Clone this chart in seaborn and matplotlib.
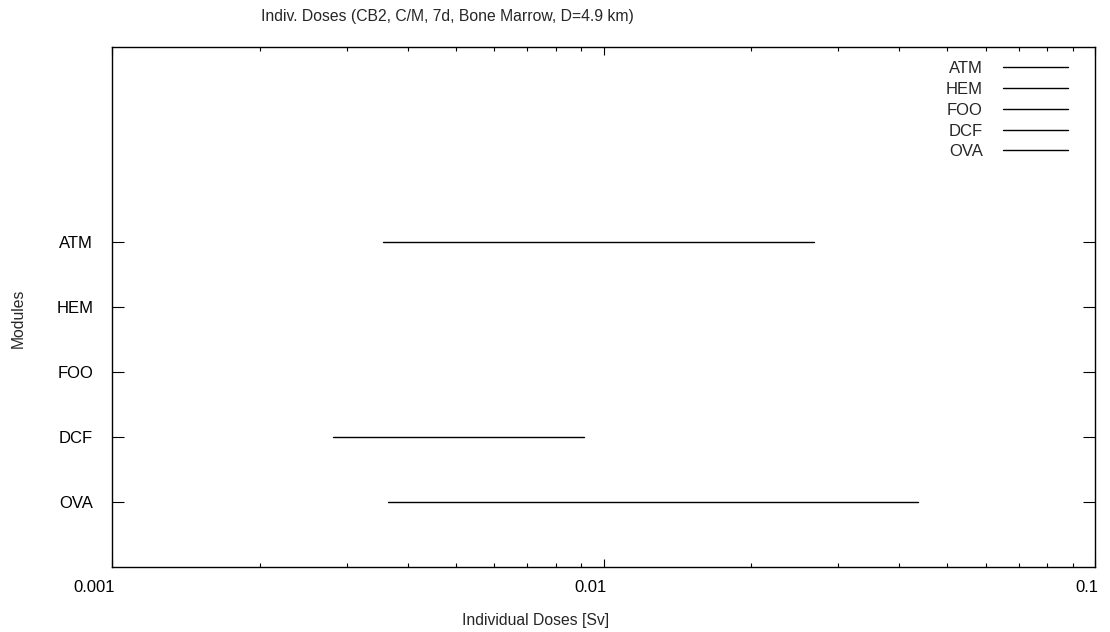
import matplotlib
matplotlib.use("Agg")
import matplotlib.pyplot as plt
import matplotlib.transforms as mtransforms
from matplotlib.lines import Line2D
from matplotlib.ticker import LogLocator, NullFormatter, FixedLocator
import numpy as np
import pandas as pd
import seaborn as sns

# Modules (top to bottom) and their dose ranges [Sv]
modules = ["ATM", "HEM", "FOO", "DCF", "OVA"]
dose_low = [0.00356, np.nan, np.nan, 0.00282, 0.00364]
dose_high = [0.0268, np.nan, np.nan, 0.00913, 0.0437]
x_ticks = [0.001, 0.01, 0.1]
x_tick_labels = ["0.001", "0.01", "0.1"]

title = "Indiv. Doses (CB2, C/M, 7d, Bone Marrow, D=4.9 km)"

sns.set_theme(style="ticks")
plt.rcParams["font.family"] = ["Liberation Sans", "DejaVu Sans"]
plt.rcParams["font.size"] = 11.3

# y position of each module row (OVA at bottom)
ypos = {m: len(modules) - i for i, m in enumerate(modules)}

rows = []
for m, lo, hi in zip(modules, dose_low, dose_high):
    if np.isnan(lo):
        continue
    rows.append({"module": m, "dose": lo, "y": ypos[m]})
    rows.append({"module": m, "dose": hi, "y": ypos[m]})
df = pd.DataFrame(rows)

fig = plt.figure(figsize=(11.10, 6.32), dpi=100)
ax = fig.add_axes([112 / 1110, 1 - 567 / 632, (1095 - 112) / 1110, (567 - 47) / 632])

sns.lineplot(data=df, x="dose", y="y", units="module", estimator=None,
             sort=False, color="black", linewidth=1.0, legend=False, ax=ax)

ax.set_xscale("log")
ax.set_xlim(0.001, 0.1)
ax.set_ylim(0, 8)

ax.xaxis.set_major_locator(FixedLocator(x_ticks))
ax.set_xticklabels(x_tick_labels)
ax.xaxis.set_minor_locator(LogLocator(base=10, subs=np.arange(2, 10)))
ax.xaxis.set_minor_formatter(NullFormatter())

ax.set_yticks([ypos[m] for m in modules])
ax.set_yticklabels(modules)

for s in ax.spines.values():
    s.set_visible(True)
    s.set_linewidth(1.0)
    s.set_color("black")

tick_fs = 12
ax.tick_params(axis="x", which="major", direction="in", length=6, width=0.8,
               top=True, bottom=True, pad=9, colors="black", labelsize=tick_fs)
ax.tick_params(axis="x", which="minor", direction="in", length=3, width=0.8,
               top=True, bottom=True, colors="black")
ax.tick_params(axis="y", which="major", direction="in", length=8.5, width=0.8,
               left=True, right=True, pad=13.5, colors="black", labelsize=tick_fs)

# x tick labels sit just left of their tick
for lbl in ax.get_xticklabels():
    lbl.set_horizontalalignment("right")
    lbl.set_transform(lbl.get_transform() +
                      mtransforms.ScaledTranslation(3 / 100, 0, fig.dpi_scale_trans))

ax.set_xlabel("")
ax.set_ylabel("")
ax.grid(False)

fig.text(447 / 1110, 1 - 17 / 632, title, ha="center", va="center")
fig.text(536 / 1110, 1 - 620 / 632, "Individual Doses [Sv]", ha="center",
         va="center")
fig.text(18 / 1110, 1 - 318 / 632, "Modules", ha="center", va="center",
         rotation=90)

handles = [Line2D([0], [0], color="black", linewidth=1.0) for _ in modules]
ax.legend(handles, modules, loc="upper right", frameon=False, markerfirst=False,
          handlelength=3.9, handletextpad=1.2, labelspacing=0.35,
          bbox_to_anchor=(1068 / 1110, 1 - 61 / 632),
          bbox_transform=fig.transFigure, borderaxespad=0, borderpad=0,
          fontsize=tick_fs)

fig.savefig("out.png", dpi=100, facecolor="white")
